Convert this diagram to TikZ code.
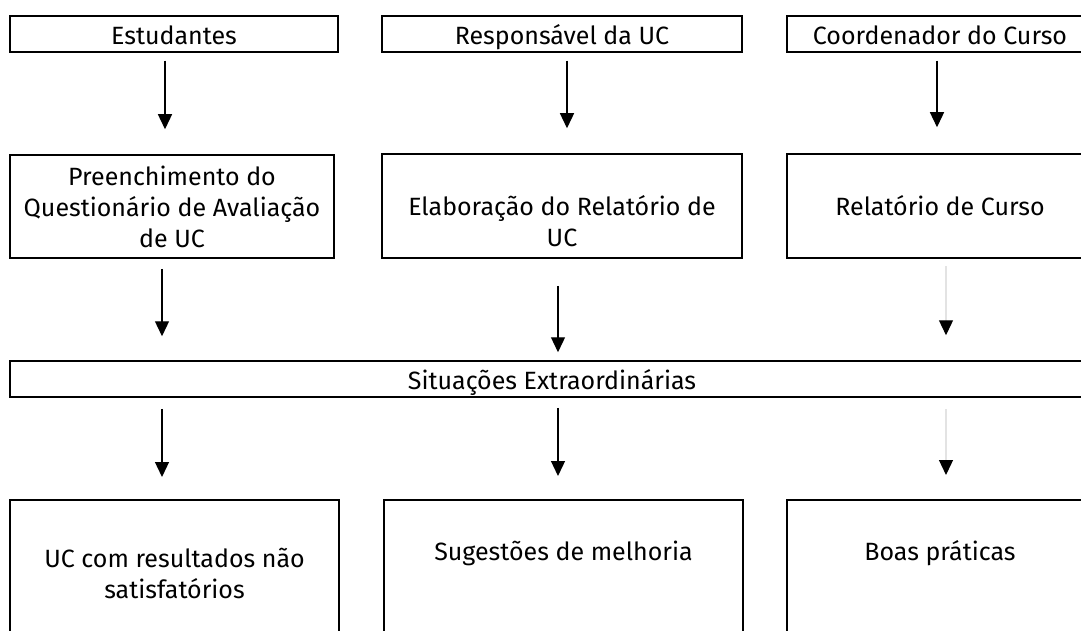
\documentclass[tikz,border=0pt]{standalone}
\usepackage{fontspec}
\setmainfont{Fira Sans}
\usetikzlibrary{arrows.meta,calc}
\begin{document}
\begin{tikzpicture}[x=1pt,y=-1pt,
  box/.style={draw=black,line width=1.5pt,inner sep=0pt,align=center,
    text height=26pt,text depth=4pt,font=\fontsize{25}{31}\selectfont},
  lbl/.style={inner sep=0pt,align=center,text height=26pt,text depth=2pt,
    font=\fontsize{25}{31}\selectfont},
  arr/.style={line width=1.3pt,-{Triangle[length=15pt,width=14pt]}},
  farr/.style={draw=gray!22,line width=1.3pt,-{Triangle[length=15pt,width=14pt,color=black]}}]
\useasboundingbox (0,0) rectangle (1081,631);
\clip (0,0) rectangle (1081,631);
% row 1
\node[box,minimum width=328pt,minimum height=36pt] (t1) at (174,34) {Estudantes};
\node[box,minimum width=360pt,minimum height=36pt] (t2) at (562,34) {Responsável da UC};
\node[box,minimum width=306pt,minimum height=36pt] (t3) at (940,34) {Coordenador do Curso};
% row 2
\node[box,minimum width=324pt,minimum height=103pt] (m1) at (172,206.5) {};
\node[box,minimum width=360pt,minimum height=104pt] (m2) at (562,206) {};
\node[box,minimum width=306pt,minimum height=104pt] (m3) at (940,206) {};
\node[lbl] (k1) at (172,235) {Preenchimento do\\Questionário de Avaliação\\de UC};
\node[lbl] (k2) at (562,234) {Elaboração do Relatório de\\UC};
\node[lbl] (k3) at (940,203) {Relatório de Curso};
% row 3
\node[box,text depth=5pt,minimum width=1084pt,minimum height=36pt] (s) at (552,379) {Situações Extraordinárias};
% row 4
\node[box,minimum width=329pt,minimum height=260pt,anchor=north] (b1) at (174.5,499) {};
\node[box,minimum width=359pt,minimum height=260pt,anchor=north] (b2) at (563.5,499) {};
\node[box,minimum width=306pt,minimum height=260pt,anchor=north] (b3) at (940,499) {};
\node[lbl] (l1) at (174.5,586) {UC com resultados não\\satisfatórios};
\node[lbl] (l2) at (563.5,548) {Sugestões de melhoria};
\node[lbl] (l3) at (940,548) {Boas práticas};
% arrows row 1 -> 2
\draw[arr,shorten <=8pt,shorten >=25pt] ($(t1.south)+(-9,0)$) -- ($(t1.south |- m1.north)+(-9,0)$);
\draw[arr,shorten <=8pt,shorten >=25pt] ($(t2.south)+(5,0)$) -- ($(t2.south |- m2.north)+(5,0)$);
\draw[arr,shorten <=8pt,shorten >=26pt] ($(t3.south)+(-3,0)$) -- ($(t3.south |- m3.north)+(-3,0)$);
% arrows row 2 -> 3
\draw[arr,shorten <=10pt,shorten >=24pt] ($(m1.south)+(-10,0)$) -- ($(m1.south |- s.north)+(-10,0)$);
\draw[arr,shorten <=27pt,shorten >=8pt] ($(m2.south)+(-4,0)$) -- ($(m2.south |- s.north)+(-4,0)$);
\draw[farr,shorten <=7pt,shorten >=25pt] ($(m3.south)+(6,0)$) -- ($(m3.south |- s.north)+(6,0)$);
% arrows row 3 -> 4
\draw[arr,shorten <=11pt,shorten >=22pt] ($(s.south -| b1.north)+(-12.5,0)$) -- ($(b1.north)+(-12.5,0)$);
\draw[arr,shorten <=10pt,shorten >=23pt] ($(s.south -| b2.north)+(-5.5,0)$) -- ($(b2.north)+(-5.5,0)$);
\draw[farr,shorten <=11pt,shorten >=24pt] ($(s.south -| b3.north)+(6,0)$) -- ($(b3.north)+(6,0)$);
\end{tikzpicture}
\end{document}
